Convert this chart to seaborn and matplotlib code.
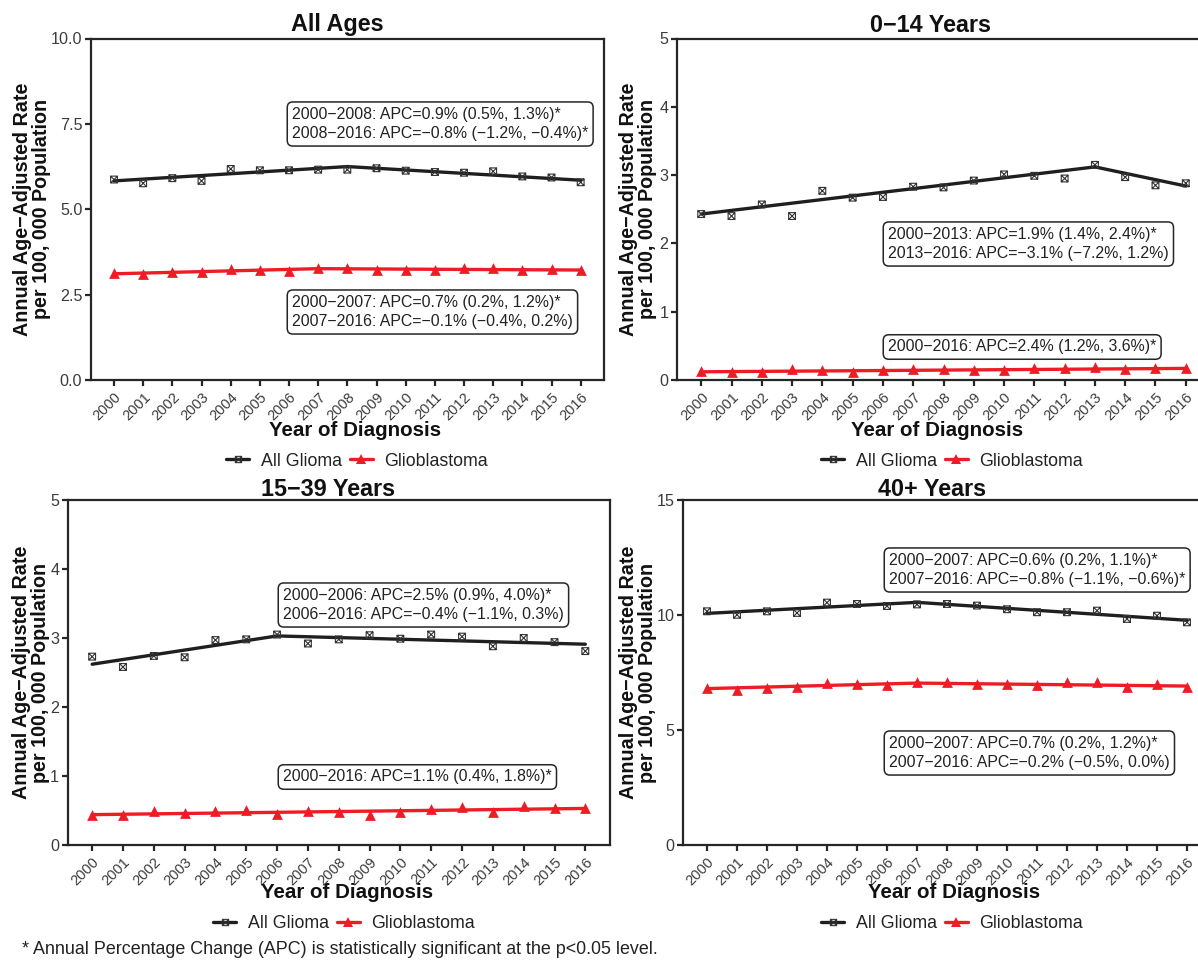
import matplotlib
matplotlib.use("Agg")
import matplotlib.pyplot as plt
from matplotlib.path import Path
from matplotlib.lines import Line2D
import numpy as np
import pandas as pd
import seaborn as sns

# ---------------- data ----------------
years = list(range(2000, 2017))

all_ages_glioma = [5.87, 5.76, 5.91, 5.83, 6.18, 6.14, 6.14, 6.16, 6.16, 6.20,
                   6.13, 6.09, 6.07, 6.11, 5.96, 5.93, 5.79]
all_ages_gbm = [3.13, 3.09, 3.15, 3.17, 3.26, 3.23, 3.19, 3.28, 3.28, 3.23,
                3.22, 3.22, 3.29, 3.27, 3.21, 3.26, 3.21]
all_ages_glioma_fit_years = [2000, 2008, 2016]
all_ages_glioma_fit = [5.83, 6.25, 5.85]
all_ages_gbm_fit_years = [2000, 2007, 2016]
all_ages_gbm_fit = [3.11, 3.26, 3.22]

age0_14_glioma = [2.43, 2.40, 2.57, 2.40, 2.77, 2.67, 2.68, 2.83, 2.82, 2.92,
                  3.01, 2.99, 2.95, 3.15, 2.97, 2.85, 2.88]
age0_14_gbm = [0.13, 0.11, 0.12, 0.16, 0.14, 0.12, 0.14, 0.16, 0.16, 0.15,
               0.14, 0.18, 0.18, 0.19, 0.16, 0.17, 0.17]
age0_14_glioma_fit_years = [2000, 2013, 2016]
age0_14_glioma_fit = [2.43, 3.12, 2.84]
age0_14_gbm_fit_years = [2000, 2016]
age0_14_gbm_fit = [0.12, 0.17]

age15_39_glioma = [2.73, 2.58, 2.74, 2.72, 2.97, 2.98, 3.05, 2.92, 2.98, 3.04,
                   2.99, 3.05, 3.02, 2.88, 3.00, 2.94, 2.81]
age15_39_gbm = [0.43, 0.44, 0.50, 0.47, 0.50, 0.51, 0.45, 0.50, 0.48, 0.44,
                0.48, 0.52, 0.55, 0.48, 0.57, 0.54, 0.53]
age15_39_glioma_fit_years = [2000, 2006, 2016]
age15_39_glioma_fit = [2.62, 3.03, 2.91]
age15_39_gbm_fit_years = [2000, 2016]
age15_39_gbm_fit = [0.44, 0.53]

age40_glioma = [10.16, 10.01, 10.16, 10.09, 10.54, 10.48, 10.39, 10.46, 10.48, 10.41,
                10.25, 10.12, 10.12, 10.19, 9.83, 9.97, 9.68]
age40_gbm = [6.84, 6.75, 6.84, 6.87, 7.06, 7.01, 6.97, 7.07, 7.10, 7.01,
             7.00, 6.96, 7.07, 7.09, 6.87, 7.01, 6.88]
age40_glioma_fit_years = [2000, 2007, 2016]
age40_glioma_fit = [10.07, 10.55, 9.77]
age40_gbm_fit_years = [2000, 2007, 2016]
age40_gbm_fit = [6.80, 7.04, 6.91]

titles = ["All Ages", "0\u221214 Years", "15\u221239 Years", "40+ Years"]
y_limits = [10, 5, 5, 15]
y_ticks = [[0, 2.5, 5, 7.5, 10], [0, 1, 2, 3, 4, 5], [0, 1, 2, 3, 4, 5], [0, 5, 10, 15]]
y_ticklabels = [["0.0", "2.5", "5.0", "7.5", "10.0"], ["0", "1", "2", "3", "4", "5"],
                ["0", "1", "2", "3", "4", "5"], ["0", "5", "10", "15"]]

glioma_notes = [
    "2000\u22122008: APC=0.9% (0.5%, 1.3%)*\n2008\u22122016: APC=\u22120.8% (\u22121.2%, \u22120.4%)*",
    "2000\u22122013: APC=1.9% (1.4%, 2.4%)*\n2013\u22122016: APC=\u22123.1% (\u22127.2%, 1.2%)",
    "2000\u22122006: APC=2.5% (0.9%, 4.0%)*\n2006\u22122016: APC=\u22120.4% (\u22121.1%, 0.3%)",
    "2000\u22122007: APC=0.6% (0.2%, 1.1%)*\n2007\u22122016: APC=\u22120.8% (\u22121.1%, \u22120.6%)*",
]
gbm_notes = [
    "2000\u22122007: APC=0.7% (0.2%, 1.2%)*\n2007\u22122016: APC=\u22120.1% (\u22120.4%, 0.2%)",
    "2000\u22122016: APC=2.4% (1.2%, 3.6%)*",
    "2000\u22122016: APC=1.1% (0.4%, 1.8%)*",
    "2000\u22122007: APC=0.7% (0.2%, 1.2%)*\n2007\u22122016: APC=\u22120.2% (\u22120.5%, 0.0%)",
]
series_labels = ["All Glioma", "Glioblastoma"]
footnote = "* Annual Percentage Change (APC) is statistically significant at the p<0.05 level."

observed = [
    (all_ages_glioma, all_ages_gbm),
    (age0_14_glioma, age0_14_gbm),
    (age15_39_glioma, age15_39_gbm),
    (age40_glioma, age40_gbm),
]
fitted = [
    ((all_ages_glioma_fit_years, all_ages_glioma_fit), (all_ages_gbm_fit_years, all_ages_gbm_fit)),
    ((age0_14_glioma_fit_years, age0_14_glioma_fit), (age0_14_gbm_fit_years, age0_14_gbm_fit)),
    ((age15_39_glioma_fit_years, age15_39_glioma_fit), (age15_39_gbm_fit_years, age15_39_gbm_fit)),
    ((age40_glioma_fit_years, age40_glioma_fit), (age40_gbm_fit_years, age40_gbm_fit)),
]

# ---------------- style ----------------
sns.set_theme(style="white")
plt.rcParams["font.family"] = ["Liberation Sans", "DejaVu Sans"]

W, H = 1198, 960
fig = plt.figure(figsize=(W / 100, H / 100), dpi=100)

BLACK = "#1f1f1f"
RED = "#ee1c25"
DARK = "#262626"
TICKC = "#3c3c3c"

# square with a cross inside
boxed_x = Path(
    [(-1, -1), (1, -1), (1, 1), (-1, 1), (-1, -1), (-1, -1), (1, 1), (-1, 1), (1, -1)],
    [Path.MOVETO, Path.LINETO, Path.LINETO, Path.LINETO, Path.CLOSEPOLY,
     Path.MOVETO, Path.LINETO, Path.MOVETO, Path.LINETO],
)


def px_text(x, y, s, **kw):
    fig.text(x / W, 1 - y / H, s, **kw)


# panel boxes in pixels: left, right, top, bottom
panels = [
    (90.7, 604, 38.5, 380),
    (677, 1210, 38.5, 380),
    (67.5, 610, 500, 845),
    (683, 1211, 500, 845),
]
title_pos = [(337, 25), (930, 25), (328, 490), (932, 490)]
xlabel_pos = [(355, 430), (937, 430), (347, 893), (954, 893)]
ylabel_x = [32, 638, 31, 638]
legend_pos = [(357, 461), (952, 461), (344, 924), (952, 924)]
note1_pos = [(292, 124), (888, 244), (283, 605), (889, 570)]
note2_pos = [(292, 312), (888, 347), (283, 777), (889, 753)]

for i in range(4):
    l, r, t, b = panels[i]
    ax = fig.add_axes([l / W, 1 - b / H, (r - l) / W, (b - t) / H])

    gl_obs, gb_obs = observed[i]
    (gl_fy, gl_fv), (gb_fy, gb_fv) = fitted[i]
    df_obs = pd.DataFrame({"year": years, "glioma": gl_obs, "gbm": gb_obs})
    df_gl_fit = pd.DataFrame({"year": gl_fy, "rate": gl_fv})
    df_gb_fit = pd.DataFrame({"year": gb_fy, "rate": gb_fv})

    sns.lineplot(data=df_gl_fit, x="year", y="rate", ax=ax, color=BLACK, lw=2.4, zorder=2)
    sns.lineplot(data=df_gb_fit, x="year", y="rate", ax=ax, color=RED, lw=2.4, zorder=2)
    sns.scatterplot(data=df_obs, x="year", y="glioma", ax=ax, marker=boxed_x, s=24,
                    facecolor="none", edgecolor="#333333", linewidth=0.8, color="#333333",
                    zorder=3)
    sns.scatterplot(data=df_obs, x="year", y="gbm", ax=ax, marker="^", s=60,
                    color=RED, edgecolor=RED, linewidth=0, zorder=3)

    ax.set_xlim(1999.2, 2016.8)
    ax.set_ylim(0, y_limits[i])
    ax.set_xticks(years)
    ax.set_xticklabels([str(y) for y in years], rotation=45, ha="right",
                       rotation_mode="anchor", fontsize=10.5, color=TICKC)
    ax.set_yticks(y_ticks[i])
    ax.set_yticklabels(y_ticklabels[i], fontsize=11.6, color=TICKC)
    ax.tick_params(axis="both", direction="out", length=4, width=1.6, color=DARK,
                   bottom=True, left=True, pad=2)
    ax.tick_params(axis="x", pad=3)
    for sp in ax.spines.values():
        sp.set_visible(True)
        sp.set_linewidth(1.6)
        sp.set_color(DARK)
    ax.set_xlabel("")
    ax.set_ylabel("")
    ax.grid(False)
    ax.set_facecolor("white")

    px_text(*title_pos[i], titles[i], fontsize=16.8, fontweight="bold", ha="center",
            va="center", color="#111111")
    px_text(*xlabel_pos[i], "Year of Diagnosis", fontsize=14.8, fontweight="bold",
            ha="center", va="center", color="#111111")
    px_text(ylabel_x[i], (t + b) / 2, "Annual Age\u2212Adjusted Rate\nper 100, 000 Population",
            fontsize=14.2, fontweight="bold", ha="center", va="center", rotation=90,
            color="#111111", linespacing=0.98)

    box = dict(boxstyle="round,pad=0.3,rounding_size=0.35", fc="white", ec=DARK, lw=1.1)
    px_text(*note1_pos[i], glioma_notes[i], fontsize=11.4, ha="left", va="center",
            color="#222222", bbox=box, linespacing=1.38)
    px_text(*note2_pos[i], gbm_notes[i], fontsize=11.4, ha="left", va="center",
            color="#222222", bbox=box, linespacing=1.38)

    handles = [
        Line2D([], [], color=BLACK, lw=2.4, marker=boxed_x, ms=4.5, mfc="none",
               mec="#333333", mew=0.8),
        Line2D([], [], color=RED, lw=2.4, marker="^", ms=7.5, mfc=RED, mec=RED, mew=0),
    ]
    lx, ly = legend_pos[i]
    fig.legend(handles, series_labels, loc="center", bbox_to_anchor=(lx / W, 1 - ly / H),
               ncol=2, frameon=False, fontsize=12.8, handlelength=1.3, handletextpad=0.65,
               columnspacing=0.45, labelcolor="#222222")

px_text(22, 950, footnote, fontsize=12.9, ha="left", va="center", color="#222222")

fig.savefig("out.png", dpi=100, facecolor="white")
